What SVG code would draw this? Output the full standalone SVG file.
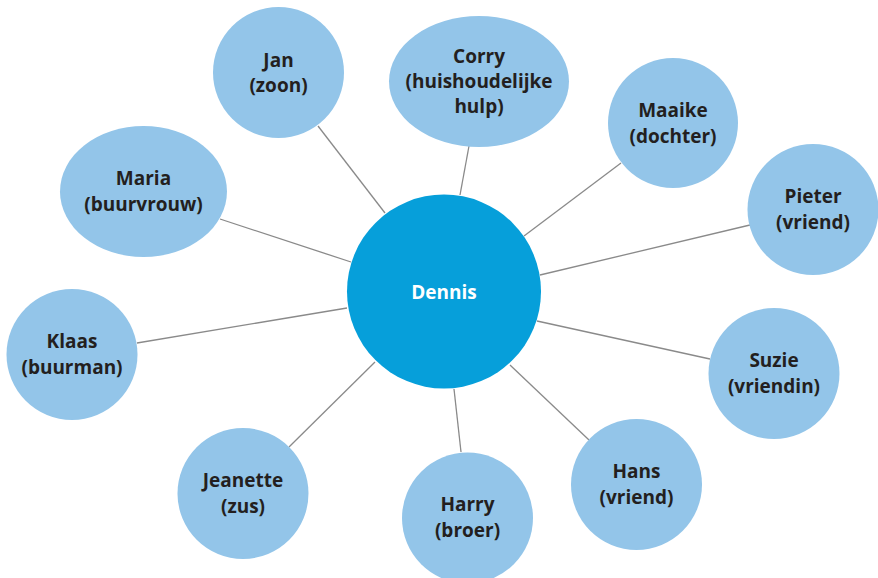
<svg xmlns="http://www.w3.org/2000/svg" width="878" height="578" viewBox="0 0 878 578">
<style>
.n{fill:#93c5e9}
.c{fill:#069fda}
.t{font-family:"Open Sans","Liberation Sans",sans-serif;font-weight:700;font-size:19px;fill:#231f20;text-anchor:middle}
.w{fill:#ffffff}
#edges line{stroke:#8a8a8a;stroke-width:1.3}
</style>
<rect width="878" height="578" fill="#ffffff"/>
<g id="edges">
<line x1="318" y1="126" x2="385" y2="213"/>
<line x1="220" y1="219" x2="351" y2="262"/>
<line x1="469" y1="146" x2="460" y2="195"/>
<line x1="621" y1="163" x2="524" y2="236"/>
<line x1="750" y1="225" x2="540" y2="275"/>
<line x1="137" y1="343" x2="347" y2="308"/>
<line x1="289" y1="447" x2="375" y2="362"/>
<line x1="454" y1="389" x2="461" y2="452"/>
<line x1="510" y1="365" x2="589" y2="440"/>
<line x1="537" y1="321" x2="710" y2="359"/>
</g>
<g id="dennis"><circle class="c" cx="444" cy="291.5" r="97"/><text class="t w" x="444" y="298.5">Dennis</text></g>
<g id="jan"><circle class="n" cx="278.5" cy="72.5" r="65.5"/><text class="t" x="278.5" y="67">Jan</text><text class="t" x="278.5" y="92">(zoon)</text></g>
<g id="corry"><ellipse class="n" cx="479" cy="81.5" rx="90" ry="65.5"/><text class="t" x="479" y="63">Corry</text><text class="t" x="479" y="88">(huishoudelijke</text><text class="t" x="479" y="113">hulp)</text></g>
<g id="maaike"><circle class="n" cx="673" cy="123" r="65"/><text class="t" x="673" y="117">Maaike</text><text class="t" x="673" y="143">(dochter)</text></g>
<g id="pieter"><circle class="n" cx="813" cy="209.5" r="65.5"/><text class="t" x="813" y="203">Pieter</text><text class="t" x="813" y="229">(vriend)</text></g>
<g id="maria"><ellipse class="n" cx="143.5" cy="191.5" rx="83.5" ry="65.5"/><text class="t" x="143.5" y="185">Maria</text><text class="t" x="143.5" y="211">(buurvrouw)</text></g>
<g id="klaas"><circle class="n" cx="72" cy="354.5" r="65.5"/><text class="t" x="72" y="348">Klaas</text><text class="t" x="72" y="374">(buurman)</text></g>
<g id="jeanette"><circle class="n" cx="243" cy="493.5" r="65.5"/><text class="t" x="243" y="487">Jeanette</text><text class="t" x="243" y="513">(zus)</text></g>
<g id="harry"><circle class="n" cx="467.5" cy="518" r="65.5"/><text class="t" x="467.5" y="511">Harry</text><text class="t" x="467.5" y="537">(broer)</text></g>
<g id="hans"><circle class="n" cx="636.5" cy="484.5" r="65.5"/><text class="t" x="636.5" y="478">Hans</text><text class="t" x="636.5" y="504">(vriend)</text></g>
<g id="suzie"><circle class="n" cx="774" cy="373.5" r="65.5"/><text class="t" x="774" y="367">Suzie</text><text class="t" x="774" y="393">(vriendin)</text></g>
</svg>
